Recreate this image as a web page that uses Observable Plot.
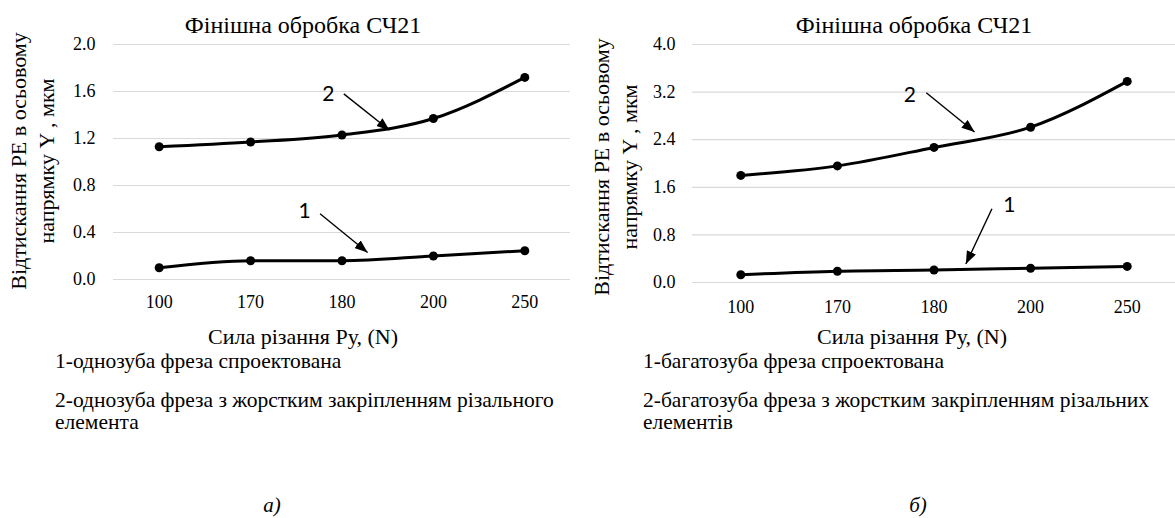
<!DOCTYPE html>
<html><head><meta charset="utf-8">
<script src="https://cdn.jsdelivr.net/npm/d3@7"></script>
<script src="https://cdn.jsdelivr.net/npm/@observablehq/plot@0.6"></script>
<style>
body{margin:0;background:#fff;}
#root{position:relative;width:1175px;height:518px;overflow:hidden;color:#000;}
.t{position:absolute;white-space:nowrap;line-height:1;}
.c{transform:translate(-50%,-50%);}
.l{transform:translate(0,-50%);}
.ylab{position:absolute;white-space:nowrap;text-align:center;transform:translate(-50%,-50%) rotate(-90deg);font-size:22px;line-height:28px;}
.panel{position:absolute;top:0;}
</style></head><body><div id="root"></div>
<script>
// ---- data ----
const categories = ["100", "170", "180", "200", "250"];
const leftSeries1 = [0.10, 0.16, 0.16, 0.20, 0.245];
const leftSeries2 = [1.13, 1.17, 1.23, 1.37, 1.72];
const rightSeries1 = [0.13, 0.19, 0.21, 0.24, 0.27];
const rightSeries2 = [1.80, 1.96, 2.27, 2.61, 3.38];
const leftYTicks = [0, 0.4, 0.8, 1.2, 1.6, 2.0];
const rightYTicks = [0, 0.8, 1.6, 2.4, 3.2, 4.0];
const titleText = "Фінішна обробка СЧ21";
const xTitle = "Сила різання Ру, (N)";
const yTitle = ["Відтискання РЕ в осьовому", "напрямку Y , мкм"];
const leftLegend = ["1-однозуба фреза спроектована", "2-однозуба фреза з жорстким закріпленням різального", "елемента"];
const rightLegend = ["1-багатозуба фреза спроектована", "2-багатозуба фреза з жорстким закріпленням різальних", "елементів"];
const captions = ["а)", "б)"];
// annotation labels and arrows (x in category-index units, y in data units)
const leftLabels = [{text: "1", x: 1.59, y: 0.58}, {text: "2", x: 1.85, y: 1.575}];
const leftArrows = [{x1: 1.76, y1: 0.56, x2: 2.28, y2: 0.23}, {x1: 2.02, y1: 1.58, x2: 2.52, y2: 1.27}];
const rightLabels = [{text: "1", x: 2.78, y: 1.29}, {text: "2", x: 1.75, y: 3.155}];
const rightArrows = [{x1: 2.60, y1: 1.24, x2: 2.33, y2: 0.31}, {x1: 1.92, y1: 3.19, x2: 2.42, y2: 2.53}];

const root = document.getElementById("root");
const ns = "http://www.w3.org/2000/svg";
const SERIF = "'Liberation Serif', serif";

function addText(txt, x, y, size, cls, extra) {
  const d = document.createElement("div");
  d.className = "t " + cls;
  d.style.left = x + "px";
  d.style.top = y + "px";
  d.style.fontSize = size + "px";
  d.style.fontFamily = SERIF;
  if (extra) Object.assign(d.style, extra);
  d.textContent = txt;
  root.appendChild(d);
}

function panel(o) {
  const rows = [];
  o.s1.forEach((v, i) => rows.push({i, v, series: 1}));
  o.s2.forEach((v, i) => rows.push({i, v, series: 2}));
  const svg = Plot.plot({
    width: o.width, height: o.height,
    marginLeft: o.marginLeft, marginRight: o.marginRight, marginTop: o.marginTop, marginBottom: o.marginBottom,
    style: {fontFamily: SERIF, fontSize: "18px", color: "#000", background: "transparent", overflow: "visible"},
    x: {type: "linear", domain: [-0.5, categories.length - 0.5], ticks: d3.range(categories.length), tickFormat: i => categories[i], tickSize: 0, tickPadding: o.xPad, label: null},
    y: {domain: [0, o.yMax], ticks: o.yTicks, tickFormat: d => d.toFixed(1), tickSize: 0, tickPadding: o.yPad, label: null},
    marks: [
      Plot.gridY(o.yTicks, {stroke: "#d9d9d9", strokeOpacity: 1, strokeWidth: 1.2}),
      Plot.line(rows, {x: "i", y: "v", z: "series", curve: "monotone-x", stroke: "#000", strokeWidth: 3}),
      Plot.dot(rows, {x: "i", y: "v", r: 4.5, fill: "#000"}),
      Plot.link(o.arrows, {x1: "x1", y1: "y1", x2: "x2", y2: "y2", stroke: "#000", strokeWidth: 1.4}),
      Plot.text(o.labels, {x: "x", y: "y", text: "text", fontFamily: "Lato, 'Open Sans', sans-serif", fontSize: 21, fill: "#000"})
    ]
  });
  // filled triangular arrow heads
  const defs = document.createElementNS(ns, "defs");
  const m = document.createElementNS(ns, "marker");
  m.setAttribute("id", o.id);
  m.setAttribute("viewBox", "0 0 13 10");
  m.setAttribute("refX", "13");
  m.setAttribute("refY", "5");
  m.setAttribute("markerWidth", "13");
  m.setAttribute("markerHeight", "10");
  m.setAttribute("markerUnits", "userSpaceOnUse");
  m.setAttribute("orient", "auto");
  const mp = document.createElementNS(ns, "path");
  mp.setAttribute("d", "M0,0L13,5L0,10Z");
  mp.setAttribute("fill", "#000");
  m.appendChild(mp);
  defs.appendChild(m);
  svg.insertBefore(defs, svg.firstChild);
  svg.querySelectorAll('g[aria-label="link"] path').forEach(p => p.setAttribute("marker-end", `url(#${o.id})`));
  svg.classList.add("panel");
  svg.style.left = o.left + "px";
  root.appendChild(svg);
}

panel({id: "ahL", left: 0, width: 580, height: 320, marginLeft: 113, marginRight: 10, marginTop: 44, marginBottom: 41,
  xPad: 16, yPad: 18, yMax: 2.0, yTicks: leftYTicks, s1: leftSeries1, s2: leftSeries2, labels: leftLabels, arrows: leftArrows});
panel({id: "ahR", left: 580, width: 595, height: 320, marginLeft: 112, marginRight: 0, marginTop: 44, marginBottom: 38,
  xPad: 18, yPad: 17, yMax: 4.0, yTicks: rightYTicks, s1: rightSeries1, s2: rightSeries2, labels: rightLabels, arrows: rightArrows});

addText(titleText, 303, 25, 24, "c");
addText(titleText, 914, 25, 24, "c");
addText(xTitle, 303, 337, 22, "c");
addText(xTitle, 912, 337, 22, "c");
[[33, 161], [616, 167]].forEach(([x, y]) => {
  const d = document.createElement("div");
  d.className = "ylab";
  d.style.left = x + "px";
  d.style.top = y + "px";
  d.style.fontFamily = SERIF;
  d.innerHTML = yTitle.join("<br>");
  root.appendChild(d);
});
addText(leftLegend[0], 55, 362, 21.5, "l");
addText(leftLegend[1], 55, 401, 21.5, "l");
addText(leftLegend[2], 55, 423, 21.5, "l");
addText(rightLegend[0], 643, 362, 21.5, "l");
addText(rightLegend[1], 643, 401, 21.5, "l");
addText(rightLegend[2], 643, 423, 21.5, "l");
addText(captions[0], 272, 505, 21, "c", {fontStyle: "italic"});
addText(captions[1], 918, 505, 21, "c", {fontStyle: "italic"});
</script></body></html>
